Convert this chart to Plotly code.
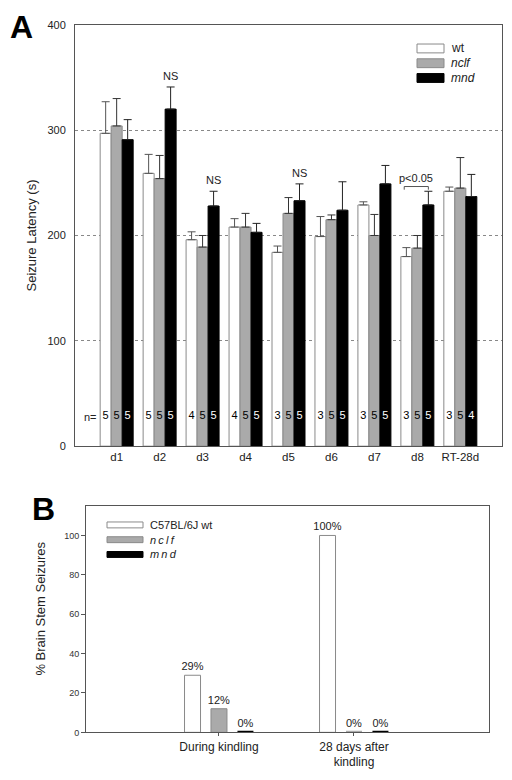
import plotly.graph_objects as go

# ---------------- Panel A data ----------------
days = ["d1", "d2", "d3", "d4", "d5", "d6", "d7", "d8", "RT-28d"]
wt = [297, 259, 196, 208, 184, 199, 229, 180, 242]
wt_err = [30, 18, 7.5, 8, 6, 19, 3, 8.5, 4]
nclf = [304, 254, 189, 208, 221, 215, 200, 188, 245]
nclf_err = [26, 22, 11, 13, 15, 4.5, 20, 12, 29]
mnd = [291, 320, 228, 203, 233, 224, 249, 229, 237]
mnd_err = [19, 21, 14, 8.5, 16, 27, 17.5, 13, 21]
n_wt = [5, 5, 4, 4, 3, 3, 3, 3, 3]
n_nclf = [5, 5, 5, 5, 5, 5, 5, 5, 5]
n_mnd = [5, 5, 5, 5, 5, 5, 5, 5, 4]
ns_days = ["d2", "d3", "d5"]
sig_day = "d8"
sig_text = "p<0.05"

# ---------------- Panel B data ----------------
phases = ["During kindling", "28 days after<br>kindling"]
b_wt = [29, 100]
b_nclf = [12, 0]
b_mnd = [0, 0]

FONT = "Arial, Liberation Sans, sans-serif"
# the page body has an 8px margin, so the figure starts at (8, 8)
W, H, M = 504, 772, 8


def px(x):
    return (x - M) / W


def py(y):
    return 1 - (y - M) / H


fig = go.Figure()

# ---------- Panel A bars ----------
xa = list(range(len(days)))
wA = 0.256
offsA = [-1.5 * wA, -0.5 * wA, 0.5 * wA]
seriesA = [
    ("wt", wt, wt_err, n_wt, "#ffffff", "#8a8a8a", "#000000", "#555555"),
    ("nclf", nclf, nclf_err, n_nclf, "#aaaaaa", "#8a8a8a", "#000000", "#333333"),
    ("mnd", mnd, mnd_err, n_mnd, "#000000", "#000000", "#ffffff", "#222222"),
]
for (name, vals, errs, ns, fill, line, tcol, ecol), off in zip(seriesA, offsA):
    fig.add_trace(go.Bar(
        x=xa, y=vals, width=wA, offset=off, name=name, showlegend=False,
        marker=dict(color=fill, line=dict(color=line, width=1)),
        error_y=dict(type="data", array=errs, arrayminus=[0] * len(errs),
                     symmetric=False, color=ecol, thickness=1, width=4),
        xaxis="x", yaxis="y"))
    fig.add_trace(go.Scatter(
        x=[i + off + wA / 2 for i in xa], y=[28] * len(xa), mode="text",
        text=[str(n) for n in ns], textfont=dict(family=FONT, size=11, color=tcol),
        showlegend=False, hoverinfo="skip", xaxis="x", yaxis="y"))

annotations = []
annotations.append(dict(x=-0.62, y=28, xref="x", yref="y", text="n=", showarrow=False,
                        font=dict(family=FONT, size=11, color="#222")))
for d in ns_days:
    i = days.index(d)
    annotations.append(dict(x=i + offsA[2] + wA / 2, y=mnd[i] + mnd_err[i], xref="x", yref="y",
                            text="NS", showarrow=False, yanchor="bottom", yshift=3,
                            font=dict(family=FONT, size=11, color="#222")))
i8 = days.index(sig_day)
bx0 = i8 + offsA[0] + wA / 2 - 0.05
bx1 = i8 + offsA[2] + wA / 2
by = mnd[i8] + mnd_err[i8] + 4.5
shapes = [dict(type="path", xref="x", yref="y",
               path=f"M {bx0},{by - 3} L {bx0},{by} L {bx1},{by} L {bx1},{by - 3}",
               line=dict(color="#555", width=1))]
annotations.append(dict(x=(bx0 + bx1) / 2, y=by, xref="x", yref="y", text=sig_text,
                        showarrow=False, yanchor="bottom", yshift=1,
                        font=dict(family=FONT, size=11, color="#222")))

# ---------- Panel B bars ----------
xb = list(range(len(phases)))
wB = 0.1185
offsB = [-0.196, 0.0, 0.196]
seriesB = [
    ("C57BL/6J wt", b_wt, "#ffffff", "#8a8a8a"),
    ("nclf", b_nclf, "#aaaaaa", "#8a8a8a"),
    ("mnd", b_mnd, "#000000", "#000000"),
]
for (name, vals, fill, line), off in zip(seriesB, offsB):
    fig.add_trace(go.Bar(
        x=xb, y=vals, width=wB, offset=off - wB / 2, name=name, showlegend=False,
        marker=dict(color=fill, line=dict(color=[line if v > 0 else fill for v in vals],
                                          width=[1 if v > 0 else 3 for v in vals])),
        text=[f"{v}%" for v in vals], textposition="outside", cliponaxis=False,
        constraintext="none",
        textfont=dict(family=FONT, size=11, color="#222"),
        xaxis="x2", yaxis="y2"))


# ---------- Legends (drawn) ----------
def legend(items, x0, x1, x_text, ys, h, size, spaced):
    for (label, fill, line, ital), y in zip(items, ys):
        shapes.append(dict(type="rect", xref="paper", yref="paper",
                           x0=px(x0), x1=px(x1), y0=py(y + h / 2), y1=py(y - h / 2),
                           fillcolor=fill, line=dict(color=line, width=1)))
        txt = "\u2009".join(label) if spaced else label
        annotations.append(dict(x=px(x_text), y=py(y), xref="paper", yref="paper",
                                text=f"<i>{txt}</i>" if ital else txt, showarrow=False,
                                xanchor="left", yanchor="middle",
                                font=dict(family=FONT, size=size, color="#222")))


legend([("wt", "#ffffff", "#8a8a8a", False), ("nclf", "#aaaaaa", "#8a8a8a", True),
        ("mnd", "#000000", "#000000", True)], 417, 444, 449, [43, 58, 73], 9, 12, False)
legend([("C57BL/6J wt", "#ffffff", "#8a8a8a", False)], 107, 143, 148, [527], 6, 11, False)
legend([("nclf", "#aaaaaa", "#8a8a8a", True), ("mnd", "#000000", "#000000", True)],
       107, 143, 148, [542, 557], 6, 11, True)

annotations += [
    dict(x=px(21), y=py(21), xref="paper", yref="paper", text="<b>A</b>", showarrow=False,
         xanchor="center", yanchor="middle", font=dict(family=FONT, size=32, color="#000")),
    dict(x=px(43), y=py(511), xref="paper", yref="paper", text="<b>B</b>", showarrow=False,
         xanchor="center", yanchor="middle", font=dict(family=FONT, size=32, color="#000")),
    dict(x=px(32), y=py(233), xref="paper", yref="paper", text="Seizure Latency (s)",
         showarrow=False, textangle=-90, xanchor="center", yanchor="middle",
         font=dict(family=FONT, size=13, color="#222")),
    dict(x=px(41), y=py(612), xref="paper", yref="paper", text="% Brain Stem Seizures",
         showarrow=False, textangle=-90, xanchor="center", yanchor="middle",
         font=dict(family=FONT, size=13, color="#222")),
]

fig.update_layout(
    width=W, height=H, margin=dict(l=0, r=0, t=0, b=0),
    paper_bgcolor="white", plot_bgcolor="white", barmode="overlay",
    font=dict(family=FONT, size=11, color="#222"),
    xaxis=dict(domain=[px(75), px(502)], range=[-0.97, 8.97], tickvals=xa, ticktext=days,
               showline=True, mirror=True, linecolor="#555", linewidth=1, showgrid=False,
               zeroline=False, ticks="", tickfont=dict(family=FONT, size=11.5, color="#222"),
               anchor="y"),
    yaxis=dict(domain=[py(447), py(19)], range=[0, 400], tickvals=[0, 100, 200, 300, 400],
               showline=True, mirror=True, linecolor="#555", linewidth=1, showgrid=True,
               gridcolor="#888", griddash="dot", gridwidth=1, zeroline=False, ticks="",
               ticklabelstandoff=6, tickfont=dict(family=FONT, size=11, color="#222"), anchor="x"),
    xaxis2=dict(domain=[px(86), px(489)], range=[-0.985, 2.0], tickvals=xb, ticktext=phases,
                showline=True, mirror=True, linecolor="#555", linewidth=1, showgrid=False,
                zeroline=False, ticks="outside", ticklen=3, tickcolor="#555",
                tickfont=dict(family=FONT, size=12, color="#222"), anchor="y2"),
    yaxis2=dict(domain=[py(737.7), py(508)], range=[0, 114.85],
                tickvals=[0, 20, 40, 60, 80, 100], showline=True, mirror=True, linecolor="#555",
                linewidth=1, showgrid=False, zeroline=False, ticks="outside", ticklen=4,
                tickcolor="#555", tickfont=dict(family=FONT, size=9, color="#333"), anchor="x2"),
    shapes=shapes, annotations=annotations,
)

fig.write_html("out.html")
